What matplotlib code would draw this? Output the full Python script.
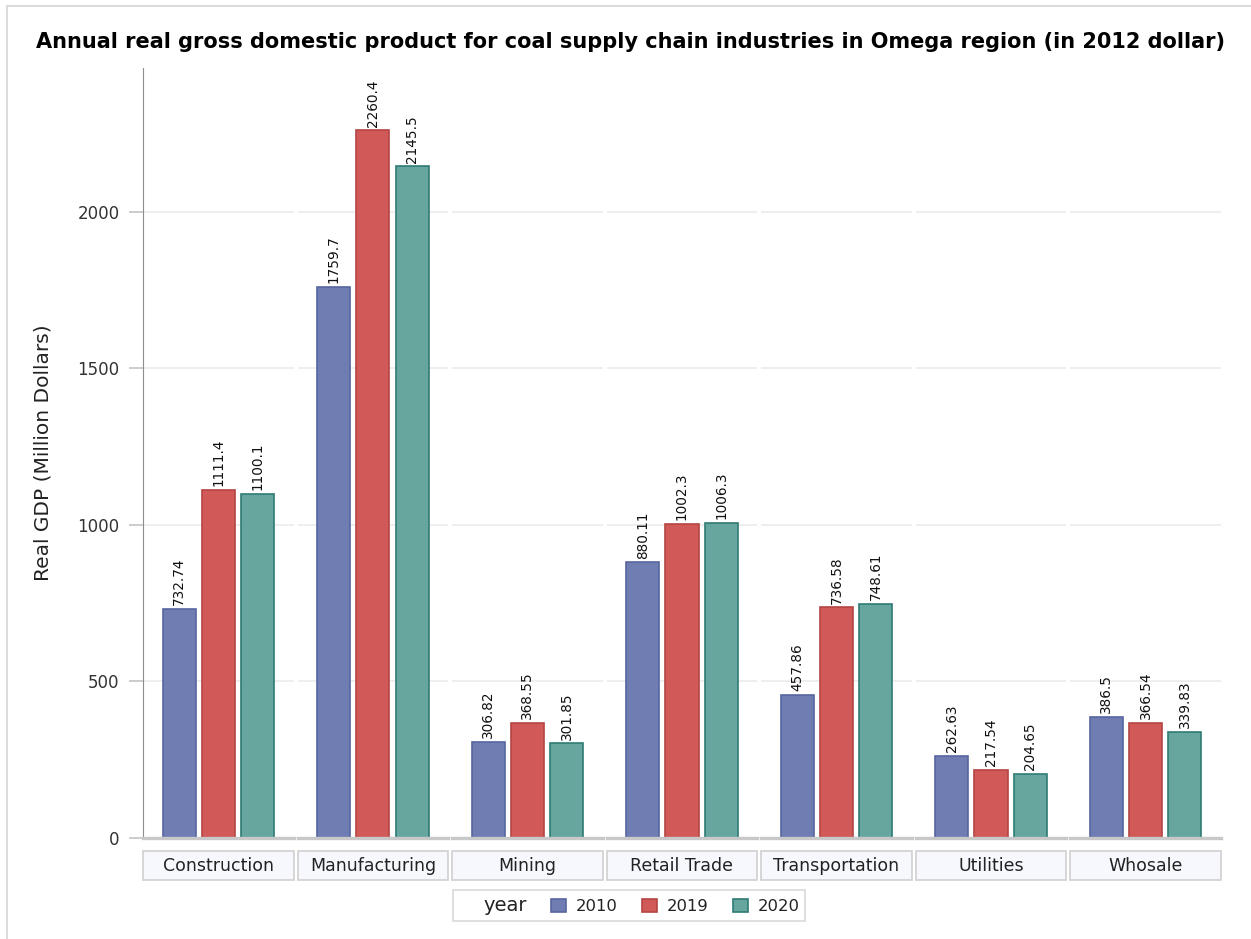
import numpy as np
import matplotlib.pyplot as plt
from matplotlib.patches import Patch, Rectangle

plt.rcParams['font.family'] = ['DejaVu Sans']

# data
industries = ['Construction', 'Manufacturing', 'Mining', 'Retail Trade',
              'Transportation', 'Utilities', 'Whosale']
years = ['2010', '2019', '2020']
gdp_2010 = [732.74, 1759.7, 306.82, 880.11, 457.86, 262.63, 386.5]
gdp_2019 = [1111.4, 2260.4, 368.55, 1002.3, 736.58, 217.54, 366.54]
gdp_2020 = [1100.1, 2145.5, 301.85, 1006.3, 748.61, 204.65, 339.83]
labels_2010 = ['732.74', '1759.7', '306.82', '880.11', '457.86', '262.63', '386.5']
labels_2019 = ['1111.4', '2260.4', '368.55', '1002.3', '736.58', '217.54', '366.54']
labels_2020 = ['1100.1', '2145.5', '301.85', '1006.3', '748.61', '204.65', '339.83']

series = [gdp_2010, gdp_2019, gdp_2020]
series_labels = [labels_2010, labels_2019, labels_2020]
fills = ['#6f7db3', '#d15a59', '#67a69f']
edges = ['#5866a0', '#b44644', '#2e7d74']

fig = plt.figure(figsize=(12.51, 9.39), dpi=100)
fig.patches.append(Rectangle((7 / 1251, -0.1), 1.2, (939 - 6) / 939 + 0.1,
                             transform=fig.transFigure, fill=False,
                             edgecolor='#d4d4d4', lw=1.2))

axes = fig.subplots(1, 7, sharey=True,
                    gridspec_kw=dict(left=0.1143, right=0.976, bottom=0.1076,
                                     top=0.9276, wspace=0.025))

offsets = [-0.26, 0.0, 0.26]
for i, ax in enumerate(axes):
    for k in range(3):
        val = series[k][i]
        ax.bar(offsets[k], val, width=0.22, color=fills[k], edgecolor=edges[k],
               linewidth=1.2, zorder=3)
        ax.text(offsets[k], val + 12, series_labels[k][i], rotation=90,
                ha='center', va='bottom', fontsize=9.8, color='#111111')
    ax.set_xlim(-0.5, 0.5)
    ax.set_ylim(0, 2460)
    ax.set_xticks([])
    for s in ['top', 'right', 'bottom']:
        ax.spines[s].set_visible(False)
    ax.axhline(0, color='#c8c8c8', lw=2.4, zorder=4, clip_on=False)
    ax.yaxis.grid(True, color='#ebebeb', lw=1.2, zorder=0)
    ax.set_yticks([0, 500, 1000, 1500, 2000])
    if i == 0:
        ax.spines['left'].set_color('#8e8e8e')
        ax.tick_params(axis='y', length=10, width=1.2, color='#c4c4c4',
                       labelsize=12, labelcolor='#333333', pad=7)
        ax.set_ylabel('Real GDP (Million Dollars)', fontsize=14.5,
                      color='#222222', labelpad=18)
    else:
        ax.spines['left'].set_visible(False)
        ax.tick_params(axis='y', length=0, labelleft=False)
    # category header cell
    ax.add_patch(Rectangle((0, -0.0545), 1, 0.0375, transform=ax.transAxes,
                           facecolor='#f7f8fd', edgecolor='#d0d0d0', lw=1.2,
                           clip_on=False))
    ax.text(0.5, -0.036, industries[i], transform=ax.transAxes, ha='center',
            va='center', fontsize=12.5, color='#222222')

fig.suptitle('Annual real gross domestic product for coal supply chain '
             'industries in Omega region (in 2012 dollar)',
             x=0.504, y=0.966, fontsize=15, fontweight='bold')

handles = [Patch(visible=False)] + [Patch(facecolor=f, edgecolor=e, lw=1.2)
                                     for f, e in zip(fills, edges)]
leg = fig.legend(handles, ['year'] + years, ncol=4, loc='center',
                 bbox_to_anchor=(0.5028, 0.0355), fontsize=11.8, frameon=True,
                 fancybox=False, edgecolor='#cfcfcf', handlelength=0.9,
                 handleheight=0.9, handletextpad=0.6, columnspacing=1.5,
                 borderpad=0.35)
leg.get_frame().set_linewidth(1.2)
leg.get_texts()[0].set_fontsize(14)
for t in leg.get_texts():
    t.set_color('#222222')

fig.savefig('out.png', dpi=100)
